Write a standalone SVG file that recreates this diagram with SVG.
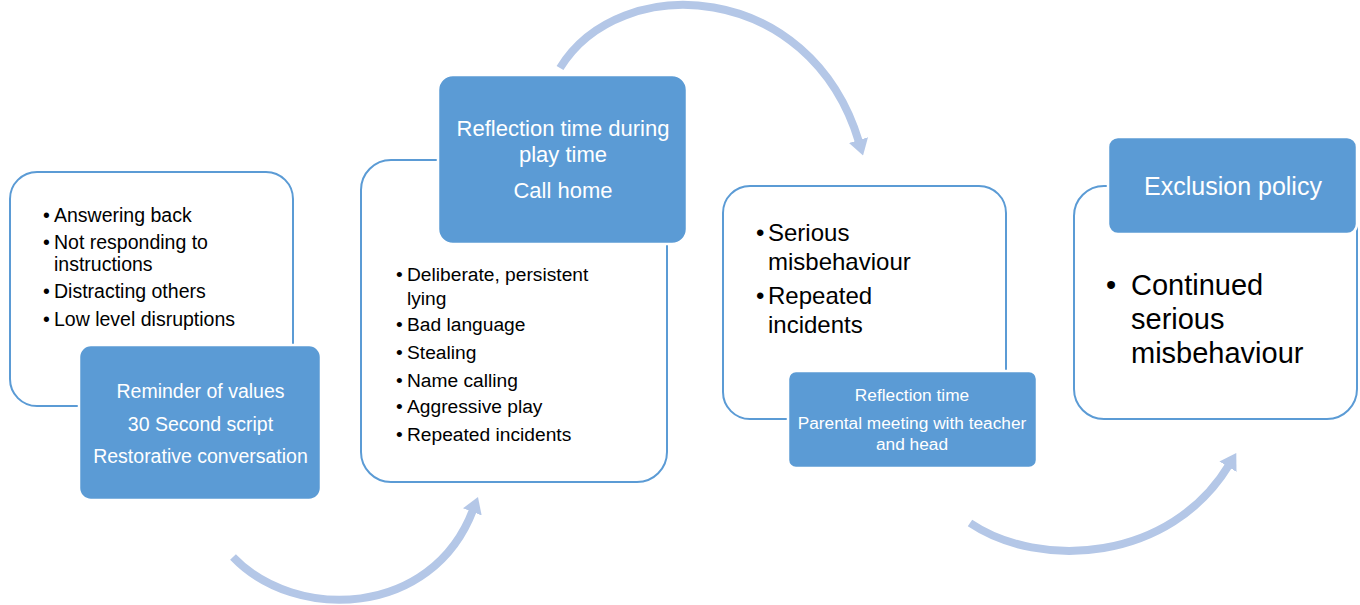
<svg xmlns="http://www.w3.org/2000/svg" width="1360" height="605" viewBox="0 0 1360 605">
<style>
.outline{fill:#fff;stroke:#5b9bd5;stroke-width:2}
.blue{fill:#5b9bd5;stroke:#fff;stroke-width:2.5}
.wt{fill:#fff;font-family:"Liberation Sans",Arial,sans-serif;text-anchor:middle}
.bt{fill:#000;font-family:"Liberation Sans",Arial,sans-serif}
.arc{fill:none;stroke:#b4c7e7;stroke-width:8;marker-end:url(#ah)}
</style>
<defs>
<marker id="ah" markerUnits="userSpaceOnUse" viewBox="0 0 16 20" markerWidth="16" markerHeight="20" refX="2" refY="10" orient="auto">
<path d="M0,0 L16,10 L0,20 z" fill="#b4c7e7"/>
</marker>
</defs>
<g id="connectors">
<path class="arc" d="M233,557 C295,622 432,618 473,510"/>
<path class="arc" d="M560,68 C620,-30 810,-20 859,142"/>
<path class="arc" d="M970,523 C1040,570 1170,562 1229,465"/>
</g>
<g id="node1">
<rect class="outline" x="10" y="172" width="283" height="234" rx="27"/>
<g class="bt" font-size="19.5">
<text x="43" y="221.5">•</text><text x="54" y="221.5">Answering back</text>
<text x="43" y="248.5">•</text><text x="54" y="248.5">Not responding to</text>
<text x="54" y="271">instructions</text>
<text x="43" y="298">•</text><text x="54" y="298">Distracting others</text>
<text x="43" y="325.5">•</text><text x="54" y="325.5">Low level disruptions</text>
</g>
</g>
<g id="node1b">
<rect class="blue" x="79" y="345" width="242" height="155" rx="12"/>
<g class="wt" font-size="19.5">
<text x="200.5" y="398">Reminder of values</text>
<text x="200.5" y="430.5">30 Second script</text>
<text x="200.5" y="463">Restorative conversation</text>
</g>
</g>
<g id="node2">
<rect class="outline" x="361" y="160" width="306" height="322" rx="30"/>
<g class="bt" font-size="19.2">
<text x="396" y="280.5">•</text><text x="407" y="280.5">Deliberate, persistent</text>
<text x="407" y="305">lying</text>
<text x="396" y="330.5">•</text><text x="407" y="330.5">Bad language</text>
<text x="396" y="359">•</text><text x="407" y="359">Stealing</text>
<text x="396" y="386.5">•</text><text x="407" y="386.5">Name calling</text>
<text x="396" y="413">•</text><text x="407" y="413">Aggressive play</text>
<text x="396" y="441">•</text><text x="407" y="441">Repeated incidents</text>
</g>
</g>
<g id="node2b">
<rect class="blue" x="438" y="75" width="249" height="169" rx="15"/>
<g class="wt" font-size="22">
<text x="563" y="136">Reflection time during</text>
<text x="563" y="162">play time</text>
<text x="563" y="197.5">Call home</text>
</g>
</g>
<g id="node3">
<rect class="outline" x="723" y="186" width="283" height="233" rx="27"/>
<g class="bt" font-size="24">
<text x="756" y="240.5">•</text><text x="768" y="240.5">Serious</text>
<text x="768" y="270">misbehaviour</text>
<text x="756" y="304">•</text><text x="768" y="304">Repeated</text>
<text x="768" y="332.5">incidents</text>
</g>
</g>
<g id="node3b">
<rect class="blue" x="788" y="371" width="249" height="97" rx="8"/>
<g class="wt" font-size="17.3">
<text x="912" y="401">Reflection time</text>
<text x="912" y="429">Parental meeting with teacher</text>
<text x="912" y="449.5">and head</text>
</g>
</g>
<g id="node4">
<rect class="outline" x="1074" y="186" width="283" height="233" rx="30"/>
<g class="bt" font-size="29">
<text x="1106" y="295">•</text><text x="1131" y="295">Continued</text>
<text x="1131" y="328.5">serious</text>
<text x="1131" y="363">misbehaviour</text>
</g>
</g>
<g id="node4b">
<rect class="blue" x="1108" y="137" width="249" height="97" rx="10"/>
<text class="wt" x="1233" y="195" font-size="25">Exclusion policy</text>
</g>
</svg>
